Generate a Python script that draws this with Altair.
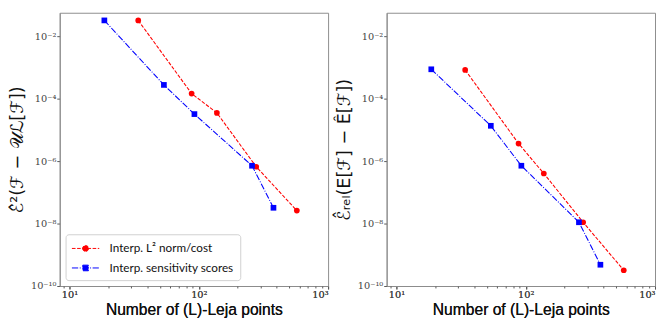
import json
import altair as alt
import pandas as pd

# ---- data ----
series_names = ["Interp. L² norm/cost", "Interp. sensitivity scores"]

red_x = [34, 88, 138, 278, 573]
blue_x = [18.6, 53.7, 92.5, 258, 378]

left_red_y = [3.2e-2, 1.45e-4, 3.5e-5, 6.6e-7, 2.6e-8]
left_blue_y = [3.2e-2, 2.75e-4, 3.2e-5, 7.1e-7, 3.2e-8]

right_red_y = [8.3e-4, 3.65e-6, 4.0e-7, 1.1e-8, 3.2e-10]
right_blue_y = [8.7e-4, 1.35e-5, 7.1e-7, 1.1e-8, 4.8e-10]

x_tick_values = [10, 100, 1000]
x_tick_labels = ["10¹", "10²", "10³"]
x_minor_values = [9, 20, 30, 40, 50, 60, 70, 80, 90, 200, 300, 400, 500, 600, 700, 800, 900]
y_tick_values = [1e-10, 1e-8, 1e-6, 1e-4, 1e-2]
y_tick_labels = ["10⁻¹⁰", "10⁻⁸", "10⁻⁶", "10⁻⁴", "10⁻²"]

x_title = "Number of (L)-Leja points"
left_y_title = "ℰ̂²(ℱ − 𝒰ℒ[ℱ])"
right_y_title = "ℰ̂ᵣₑₗ(E[ℱ] − Ê[ℱ])"

colors = ["#ff0000", "#0000ff"]
dashes = [[3.7, 1.6], [6.4, 1.6, 1, 1.6]]
shapes = ["circle", "square"]
legend_paths = [
    "M-1.75,0L1.75,0M-0.38,0A0.38,0.38,0,1,0,0.38,0A0.38,0.38,0,1,0,-0.38,0Z",
    "M-1.75,0L1.75,0M-0.36,-0.36L0.36,-0.36L0.36,0.36L-0.36,0.36Z",
]


def frame(xs_red, ys_red, xs_blue, ys_blue):
    rows = []
    for i, (a, b) in enumerate(zip(xs_red, ys_red)):
        rows.append({"n": a, "err": b, "series": series_names[0], "i": i})
    for i, (a, b) in enumerate(zip(xs_blue, ys_blue)):
        rows.append({"n": a, "err": b, "series": series_names[1], "i": i})
    return pd.DataFrame(rows)


def label_expr(values, labels):
    return f"{json.dumps(labels, ensure_ascii=False)}[indexof({json.dumps(values)}, datum.value)]"


W, H = 275, 280
GRAY = "#8c8c8c"
XDOM = [8.4, 1000]
YDOM = [1e-10, 10 ** -1.25]


def panel(df, ytitle, with_legend):
    base = alt.Chart(df)
    x = alt.X(
        "n:Q",
        scale=alt.Scale(type="log", domain=XDOM, nice=False),
        axis=alt.Axis(
            orient="bottom",
            values=x_tick_values,
            labelExpr=label_expr(x_tick_values, x_tick_labels),
            title=x_title,
            titleFont="Liberation Sans",
            titleFontSize=16,
            titleFontWeight=400,
            titlePadding=2,
        ),
    )
    y = alt.Y(
        "err:Q",
        scale=alt.Scale(type="log", domain=YDOM, nice=False),
        axis=alt.Axis(
            values=y_tick_values,
            labelExpr=label_expr(y_tick_values, y_tick_labels),
            title=ytitle,
            titleFont="DejaVu Sans",
            titleFontSize=18,
            titleFontWeight=400,
            titlePadding=4,
        ),
    )
    sdom = alt.Scale(domain=series_names, range=colors)
    lines = base.mark_line(strokeWidth=1.1).encode(
        x=x,
        y=y,
        color=alt.Color("series:N", scale=sdom, legend=None),
        strokeDash=alt.StrokeDash(
            "series:N", scale=alt.Scale(domain=series_names, range=dashes), legend=None
        ),
        order="i:Q",
    )
    pts = base.mark_point(filled=True, size=34, opacity=1).encode(
        x=x,
        y=y,
        color=alt.Color("series:N", scale=sdom, legend=None),
        shape=alt.Shape(
            "series:N", scale=alt.Scale(domain=series_names, range=shapes), legend=None
        ),
    )
    minor = (
        base.transform_filter("false")
        .mark_point(opacity=0)
        .encode(
            x=alt.X(
                "n:Q",
                scale=alt.Scale(type="log", domain=XDOM, nice=False),
                axis=alt.Axis(
                    orient="bottom",
                    values=x_minor_values,
                    labels=False,
                    domain=False,
                    tickSize=2,
                    title=None,
                ),
            )
        )
    )
    layers = [lines, pts, minor]
    if with_legend:
        lg = alt.Legend(title=None)
        leg = (
            base.transform_filter("false")
            .mark_point(strokeWidth=1, opacity=1)
            .encode(
                fill=alt.Fill("series:N", scale=alt.Scale(domain=series_names, range=colors), legend=lg),
                stroke=alt.Stroke("series:N", scale=alt.Scale(domain=series_names, range=colors), legend=lg),
                shape=alt.Shape("series:N", scale=alt.Scale(domain=series_names, range=legend_paths), legend=lg),
                strokeDash=alt.StrokeDash("series:N", scale=alt.Scale(domain=series_names, range=dashes), legend=lg),
            )
        )
        layers.append(leg)
    ch = (
        alt.layer(*layers)
        .resolve_scale(
            x="independent", shape="independent", strokeDash="independent",
            fill="independent", stroke="independent",
        )
        .resolve_axis(x="independent")
    )
    return ch.properties(width=W, height=H)


left = panel(frame(red_x, left_red_y, blue_x, left_blue_y), left_y_title, True)
right = panel(frame(red_x, right_red_y, blue_x, right_blue_y), right_y_title, False)

chart = (
    alt.hconcat(left, right, spacing=6)
    .resolve_scale(color="independent", shape="independent", strokeDash="independent",
                   fill="independent", stroke="independent")
    .properties(padding={"left": 0, "top": 0, "right": 0, "bottom": 0})
    .configure_view(stroke=GRAY, strokeWidth=1)
    .configure_axis(
        grid=False,
        domainColor=GRAY,
        tickColor="#555555",
        tickSize=3,
        labelFont="DejaVu Serif",
        labelFontSize=10,
        labelColor="#444444",
        labelPadding=1,
        titleColor="#111111",
    )
    .configure_legend(
        orient="none",
        legendX=6,
        legendY=227,
        symbolSize=256,
        symbolOffset=6,
        symbolStrokeWidth=1,
        labelOffset=16,
        labelFont="Lato",
        labelFontSize=12,
        labelColor="#111111",
        rowPadding=5,
        padding=6,
        strokeColor="#d0d0d0",
        fillColor="white",
        cornerRadius=3,
        labelLimit=300,
    )
)

chart.save("out.html", embed_options={"renderer": "svg", "actions": False})
